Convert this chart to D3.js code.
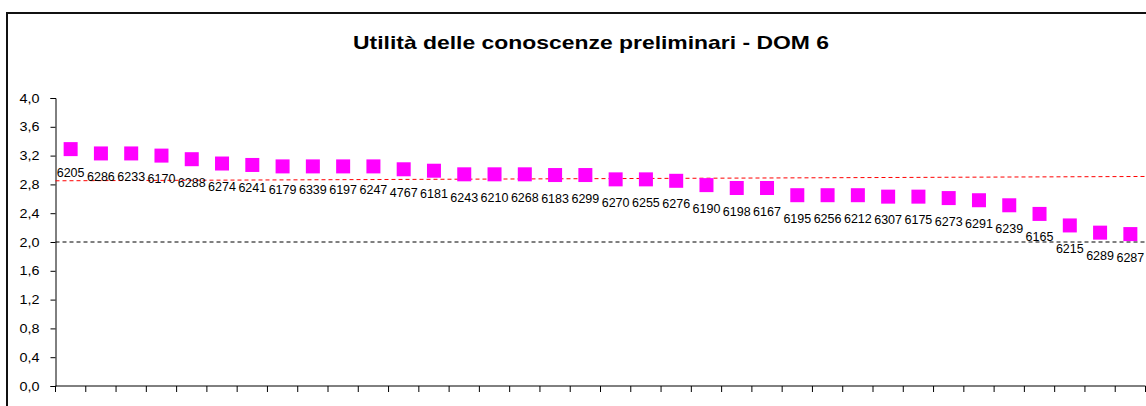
<!DOCTYPE html>
<html>
<head>
<meta charset="utf-8">
<script src="https://cdn.jsdelivr.net/npm/d3@7"></script>
<style>
  html, body { margin: 0; padding: 0; background: #fff; }
  svg { display: block; font-family: "Liberation Sans", Arial, sans-serif; }
</style>
</head>
<body>
<svg id="chart" width="1146" height="406"></svg>
<script>
const title = "Utilità delle conoscenze preliminari - DOM 6";
const categories = ["6205","6286","6233","6170","6288","6274","6241","6179","6339","6197","6247","4767",
  "6181","6243","6210","6268","6183","6299","6270","6255","6276","6190","6198","6167",
  "6195","6256","6212","6307","6175","6273","6291","6239","6165","6215","6289","6287"];
const values = [3.29,3.23,3.23,3.20,3.15,3.09,3.07,3.05,3.05,3.05,3.05,3.01,
  2.99,2.94,2.94,2.94,2.93,2.93,2.87,2.87,2.85,2.79,2.75,2.75,
  2.65,2.65,2.65,2.63,2.63,2.61,2.58,2.51,2.39,2.23,2.13,2.11];
const refRed = [2.85, 2.91];   // start / end of red dashed reference
const refBlack = [2.0, 2.0];   // black dashed threshold
const yTicks = [0,0.4,0.8,1.2,1.6,2.0,2.4,2.8,3.2,3.6,4.0];

const svg = d3.select("#chart");
const pLeft = 55.5, pRight = 1145.5, pTop = 98, pBottom = 386;

// outer frame
svg.append("rect").attr("x", 7).attr("y", 13).attr("width", 1200).attr("height", 450)
  .attr("fill", "none").attr("stroke", "#111").attr("stroke-width", 2);

svg.append("text").attr("x", 591).attr("y", 48.5).attr("text-anchor", "middle")
  .attr("font-size", 18.5).attr("font-weight", "bold").attr("fill", "#000")
  .attr("textLength", 476).attr("lengthAdjust", "spacingAndGlyphs").text(title);

const x = d3.scaleBand().domain(categories).range([pLeft, pRight]);
const y = d3.scaleLinear().domain([0, 4]).range([pBottom, pTop]);

// y axis
const yAxis = d3.axisLeft(y).tickValues(yTicks).tickSize(5).tickPadding(11)
  .tickFormat(d => d3.format(".1f")(d).replace(".", ","));
const gy = svg.append("g").attr("transform", `translate(${pLeft},0)`).call(yAxis);
gy.selectAll("text").attr("font-size", 13).attr("fill", "#000")
  .attr("font-family", "Liberation Sans, Arial, sans-serif")
  .attr("textLength", 20).attr("lengthAdjust", "spacingAndGlyphs");
gy.selectAll("line, path").attr("stroke", "#000");

// x axis (ticks between categories)
const tickPos = categories.map((c) => x(c)).concat([pRight]);
svg.append("line").attr("x1", pLeft).attr("x2", pRight).attr("y1", pBottom).attr("y2", pBottom).attr("stroke", "#000");
svg.append("g").selectAll("line").data(tickPos).join("line")
  .attr("x1", d => d).attr("x2", d => d).attr("y1", pBottom).attr("y2", pBottom + 6)
  .attr("stroke", "#000");

// reference lines
const xr = d3.scaleLinear().domain([0, 1]).range([pLeft, pRight]);
const lineGen = d3.line().x((d, i) => xr(i)).y(d => y(d));
svg.append("path").attr("d", lineGen(refBlack)).attr("fill", "none")
  .attr("stroke", "#000").attr("stroke-width", 1).attr("stroke-dasharray", "4,3");
svg.append("path").attr("d", lineGen(refRed)).attr("fill", "none")
  .attr("stroke", "#ff0000").attr("stroke-width", 1).attr("stroke-dasharray", "4,3");

// points
const sz = 14;
const data = categories.map((c, i) => ({c, v: values[i]}));
svg.append("g").selectAll("rect").data(data).join("rect")
  .attr("x", d => x(d.c) + x.bandwidth() / 2 - sz / 2)
  .attr("y", d => y(d.v) - sz / 2)
  .attr("width", sz).attr("height", sz).attr("fill", "#ff00ff");

svg.append("g").selectAll("text").data(data).join("text")
  .attr("x", d => x(d.c) + x.bandwidth() / 2)
  .attr("y", d => y(d.v) + 27.5)
  .attr("text-anchor", "middle").attr("font-size", 12.5).attr("fill", "#000")
  .text(d => d.c);
</script>
</body>
</html>
